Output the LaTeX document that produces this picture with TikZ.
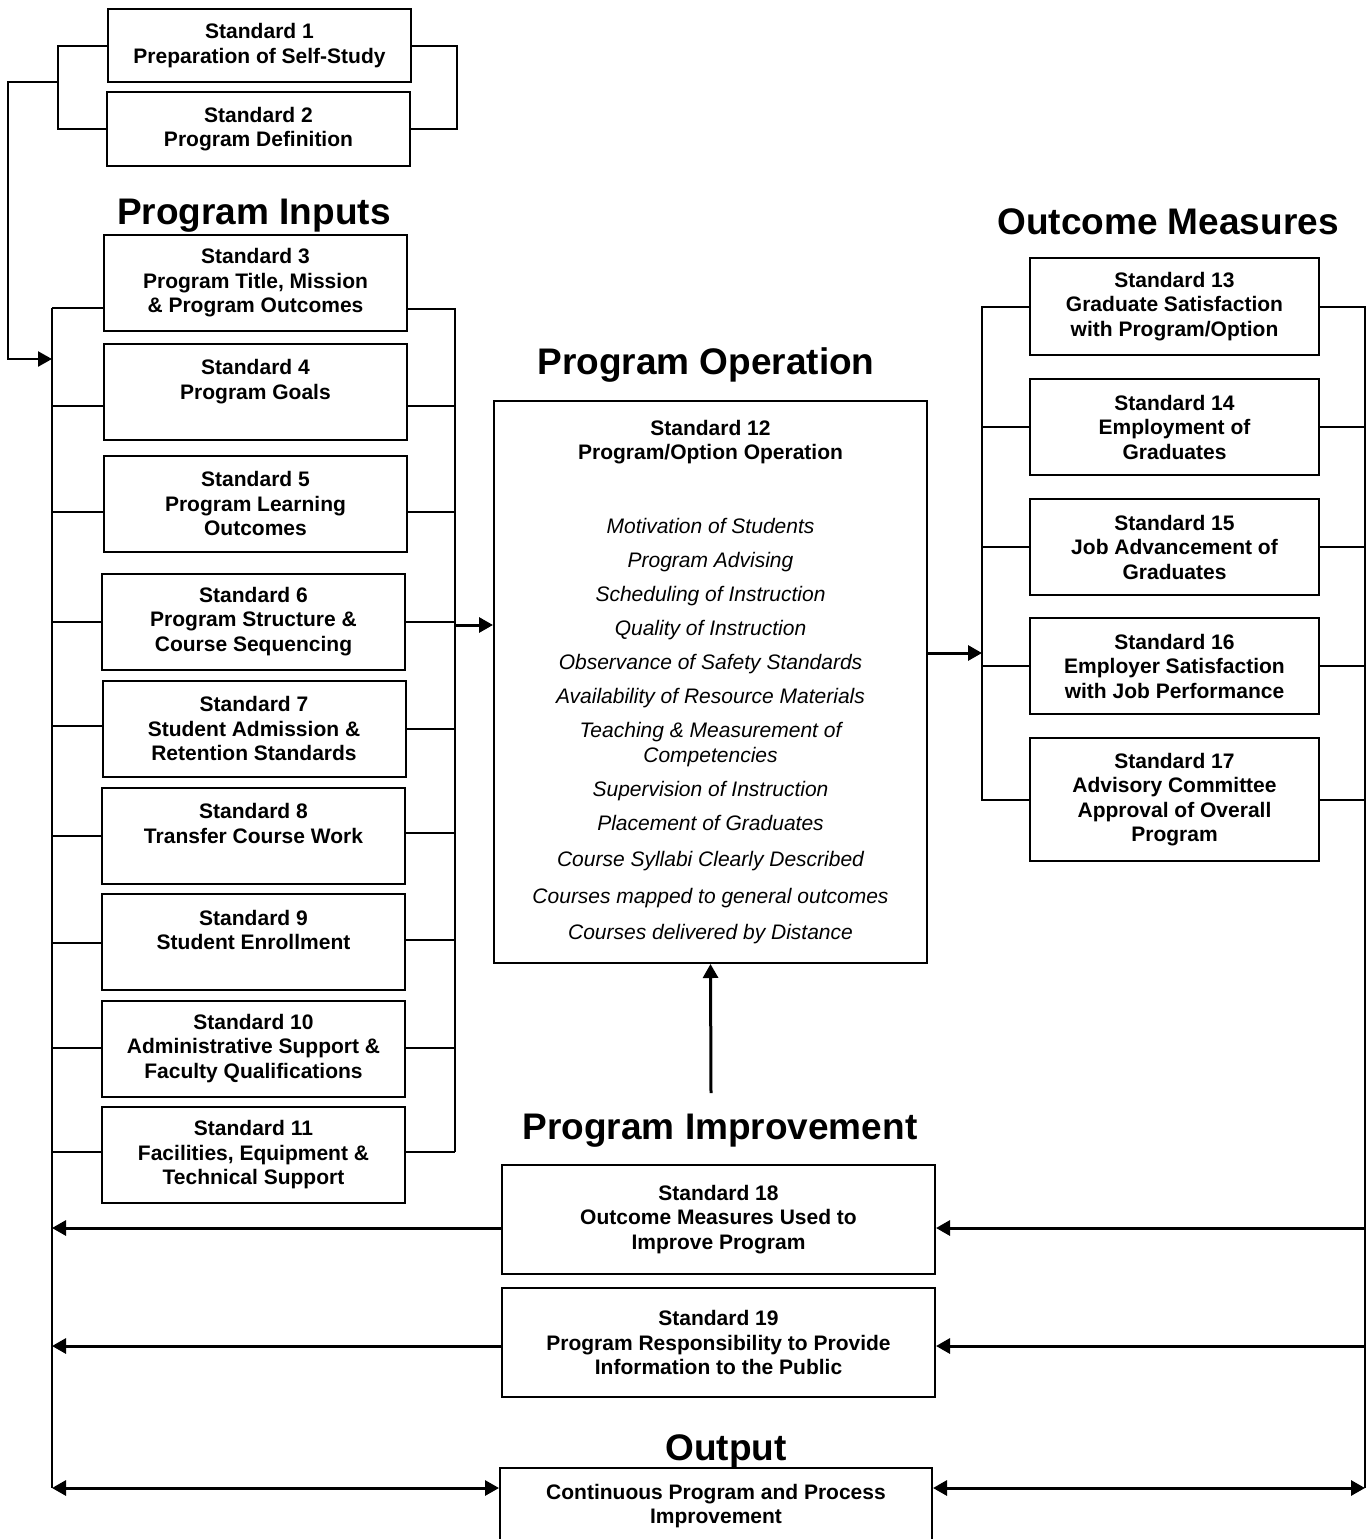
\documentclass[tikz,border=0pt]{standalone}
\usepackage{fontspec}
\setmainfont{Liberation Sans}
\usetikzlibrary{arrows.meta}
\tikzset{
  stdbox/.style={draw, line width=2pt, align=center, inner sep=0pt,
    font=\bfseries\fontsize{21}{24.5}\selectfont,
    minimum width=303pt, minimum height=96pt},
  heading/.style={font=\bfseries\fontsize{37}{40}\selectfont, anchor=base},
  link/.style={line width=2pt},
  feed/.style={line width=3pt, -{Triangle[length=14pt,width=15pt]}},
  both/.style={line width=3pt, {Triangle[length=14pt,width=15pt]}-{Triangle[length=14pt,width=15pt]}},
}
\newcommand{\opitem}[1]{{\mdseries\itshape #1}}
\begin{document}
\begin{tikzpicture}[x=1pt,y=-1pt]
                    \useasboundingbox (0,0) rectangle (1367,1539);
                    % Self-study and definition
                    \node[stdbox, minimum height=73pt] (s1) at (259.5,45.5) {Standard 1\\Preparation of Self-Study};
                    \node[stdbox, minimum height=74pt] (s2) at (258.5,129) {Standard 2\\Program Definition};
                    \coordinate (tl) at (58,0);
                    \coordinate (tr) at (457,0);
                    \draw[link] (s1.west) -| (tl |- s2.west) -- (s2.west);
                    \draw[link] (s1.east) -| (tr |- s2.east) -- (s2.east);
                    % Headings
                    \node[heading] (hin) at (254,224) {Program Inputs};
                    \node[heading] (hop) at (706,374) {Program Operation};
                    \node[heading] (hout) at (1168,234) {Outcome Measures};
                    \node[heading] (himp) at (720,1139) {Program Improvement};
                    \node[heading] (hres) at (726,1460) {Output};
                    % Program inputs
                    \node[stdbox] (s3) at (255.5,283) {Standard 3\\Program Title, Mission\\\& Program Outcomes};
                    \node[stdbox] (s4) at (255.5,391.5) {Standard 4\\Program Goals\\~};
                    \node[stdbox] (s5) at (255.5,503.5) {Standard 5\\Program Learning\\Outcomes};
                    \node[stdbox] (s6) at (253.5,621.5) {Standard 6\\Program Structure \&\\Course Sequencing};
                    \node[stdbox] (s7) at (254,728.5) {Standard 7\\Student Admission \&\\Retention Standards};
                    \node[stdbox] (s8) at (253.5,835.5) {Standard 8\\Transfer Course Work\\~};
                    \node[stdbox] (s9) at (253.5,942) {Standard 9\\Student Enrollment\\~};
                    \node[stdbox] (s10) at (253.5,1048.5) {Standard 10\\Administrative Support \&\\Faculty Qualifications};
                    \node[stdbox] (s11) at (253.5,1155) {Standard 11\\Facilities, Equipment \&\\Technical Support};
                    \coordinate (inL) at (52,308);
                    \coordinate (inR) at (455,308);
                    \coordinate (inB) at (52,1488);
                    \coordinate (inRb) at (455,1152);
                    \draw[link] (inL) -- (inB);
                    \draw[link] (inR) -- (inRb);
                    \foreach \n/\a/\b in {3/-25/-26,4/-14/-14,5/-8/-8,6/0/0,7/3/0,8/0/3,9/-1/2,10/1/1,11/3/3}{
                      \path ([yshift=\a pt]s\n.west) coordinate (t);
                      \draw[link] (t) -- (t -| inL);
                      \path ([yshift=\b pt]s\n.east) coordinate (t);
                      \draw[link] (t) -- (t -| inR);
                    }
                    % Feed from standards 1 and 2
                    \coordinate (fs) at (58,82);
                    \coordinate (fd) at (8,359);
                    \draw[feed, line width=2.5pt] (fs) -| (fd) -- (fd -| inL);
                    % Program operation
                    \node[stdbox, minimum width=433pt, minimum height=562pt] (s12) at (710.5,682) {Standard 12\\Program/Option Operation\\[49.5pt]
                      \opitem{Motivation of Students}\\[9.5pt]
                      \opitem{Program Advising}\\[9.5pt]
                      \opitem{Scheduling of Instruction}\\[9.5pt]
                      \opitem{Quality of Instruction}\\[9.5pt]
                      \opitem{Observance of Safety Standards}\\[9.5pt]
                      \opitem{Availability of Resource Materials}\\[9.5pt]
                      \opitem{Teaching \& Measurement of}\\
                      \opitem{Competencies}\\[9.5pt]
                      \opitem{Supervision of Instruction}\\[9.5pt]
                      \opitem{Placement of Graduates}\\[12pt]
                      \opitem{Course Syllabi Clearly Described}\\[12pt]
                      \opitem{Courses mapped to general outcomes}\\[12pt]
                      \opitem{Courses delivered by Distance}};
                    \coordinate (opin) at (455,625);
                    \draw[feed] (opin) -- (opin -| s12.west);
                    \coordinate (omin) at (982,653);
                    \draw[feed] (omin -| s12.east) -- (omin);
                    % Outcome measures
                    \node[stdbox, minimum width=289pt, minimum height=97pt] (s13) at (1174.5,306.5) {Standard 13\\Graduate Satisfaction\\with Program/Option};
                    \node[stdbox, minimum width=289pt] (s14) at (1174.5,427) {Standard 14\\Employment of\\Graduates};
                    \node[stdbox, minimum width=289pt] (s15) at (1174.5,547) {Standard 15\\Job Advancement of\\Graduates};
                    \node[stdbox, minimum width=289pt] (s16) at (1174.5,666) {Standard 16\\Employer Satisfaction\\with Job Performance};
                    \node[stdbox, minimum width=289pt, minimum height=123pt] (s17) at (1174.5,799.5) {Standard 17\\Advisory Committee\\Approval of Overall\\Program};
                    \coordinate (ol) at (982,0);
                    \coordinate (omB) at (1365,1488);
                    \draw[link] (s13.west) -| (ol |- s17.west) -- (s17.west);
                    \draw[link] (s13.east) -| (omB);
                    \foreach \n in {14,15,16}
                      \draw[link] (s\n.west) -- (s\n.west -| ol);
                    \foreach \n in {14,15,16,17}
                      \draw[link] (s\n.east) -- (s\n.east -| omB);
                    % Program improvement
                    \node[stdbox, minimum width=433pt, minimum height=109pt] (s18) at (718.5,1219.5) {Standard 18\\Outcome Measures Used to\\Improve Program};
                    \node[stdbox, minimum width=433pt, minimum height=109pt] (s19) at (718.5,1342.5) {Standard 19\\Program Responsibility to Provide\\Information to the Public};
                    \coordinate (imp) at (711,1093);
                    \draw[feed] (imp) -- (s12.south);
                    \foreach \n/\y in {18/1228,19/1346}{
                      \coordinate (r) at (1365,\y);
                      \coordinate (l) at (52,\y);
                      \draw[feed] (r) -- (r -| s\n.east);
                      \draw[feed] (l -| s\n.west) -- (l);
                    }
                    % Output
                    \node[stdbox, minimum width=432pt, minimum height=76pt] (out) at (716,1506) {Continuous Program and Process\\Improvement};
                    \draw[both] (inB) -- (inB -| out.west);
                    \draw[both] (out.east |- omB) -- (omB);
\end{tikzpicture}
\end{document}
